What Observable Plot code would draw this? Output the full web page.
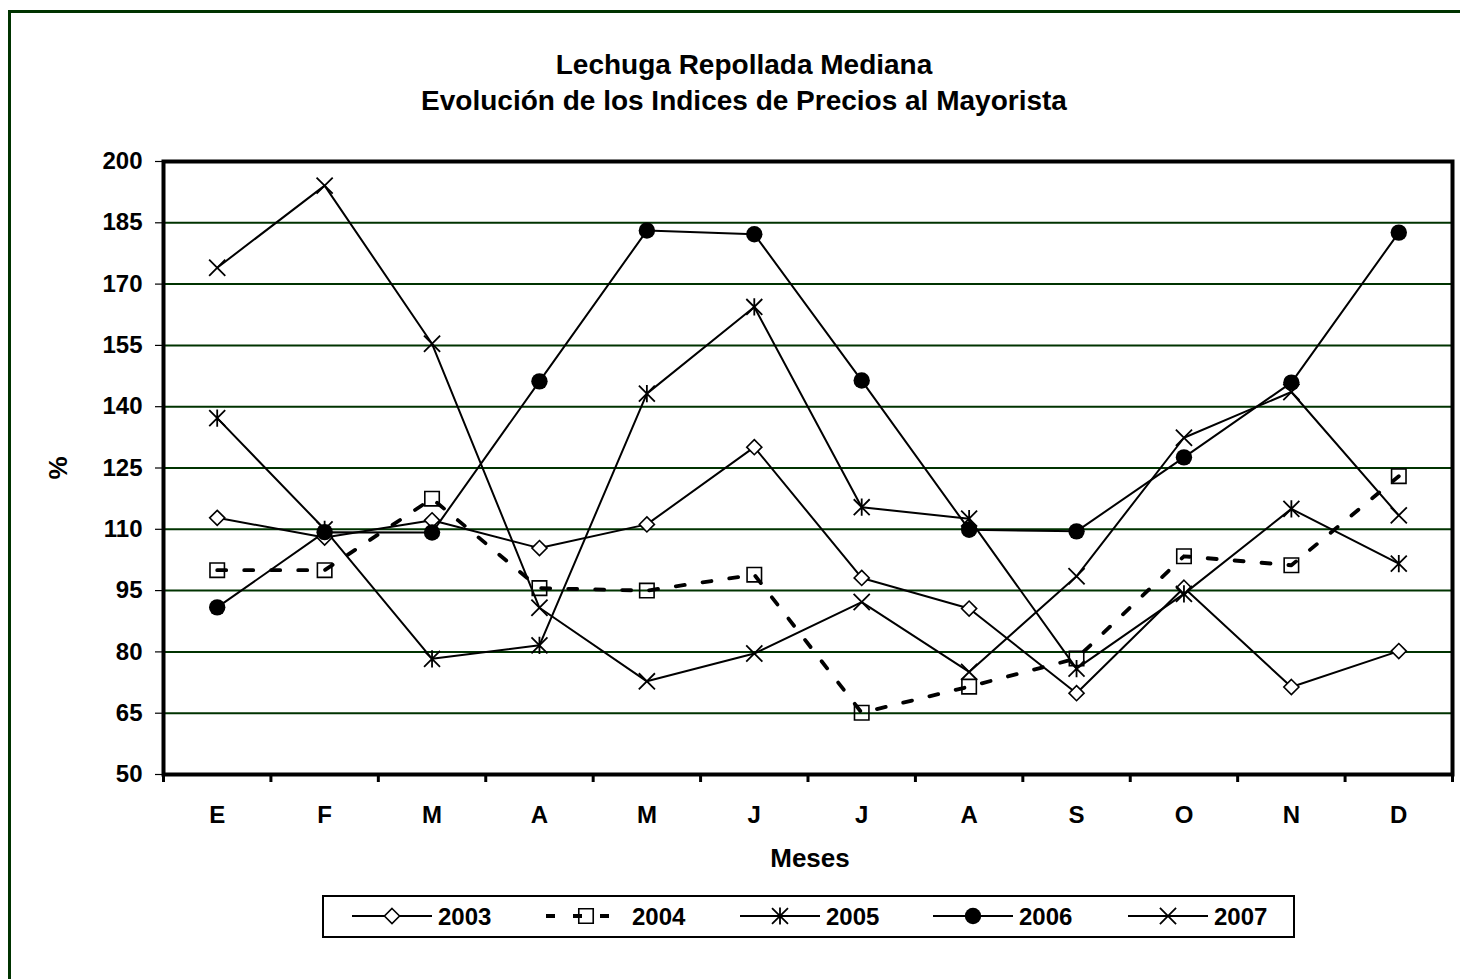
<!DOCTYPE html>
<html>
<head>
<meta charset="utf-8">
<script src="https://cdn.jsdelivr.net/npm/d3@7"></script>
<script src="https://cdn.jsdelivr.net/npm/@observablehq/plot@0.6"></script>
<style>
  body { margin: 0; background: #fff; }
  #wrap { position: relative; width: 1460px; height: 979px; overflow: hidden; background: #fff;
          font-family: "Liberation Sans", Arial, sans-serif; }
  #border { position: absolute; left: 7.5px; top: 9.5px; width: 1500px; height: 1100px;
            border-left: 3px solid #003300; border-top: 3px solid #003300; }
  #plot { position: absolute; left: 0; top: 0; }
  #overlay { position: absolute; left: 0; top: 0; }
</style>
</head>
<body>
<div id="wrap">
  <div id="border"></div>
  <div id="plot"></div>
  <svg id="overlay" width="1460" height="979"></svg>
</div>
<script>
// ---- data ----
const months = ["E","F","M","A","M","J","J","A","S","O","N","D"];
const years = ["2003","2004","2005","2006","2007"];
const v2003 = [112.8, 108.0, 112.2, 105.4, 111.2, 130.1, 98.1, 90.6, 69.9, 95.7, 71.4, 80.2];
const v2004 = [100.0, 100.0, 117.5, 95.6, 95.0, 98.9, 65.1, 71.5, 78.4, 103.4, 101.2, 123.0];
const v2005 = [137.2, 110.0, 78.3, 81.6, 143.2, 164.4, 115.4, 112.6, 75.9, 94.2, 115.0, 101.6];
const v2006 = [90.9, 109.3, 109.2, 146.2, 183.1, 182.2, 146.4, 109.9, 109.5, 127.6, 145.9, 182.6];
const v2007 = [174.0, 194.1, 155.4, 90.8, 72.8, 79.6, 92.2, 75.1, 98.5, 132.4, 143.6, 113.4];
const yTicks = [50, 65, 80, 95, 110, 125, 140, 155, 170, 185, 200];
const gridVals = [65, 80, 95, 110, 125, 140, 155, 170, 185];
const titleLines = ["Lechuga Repollada Mediana", "Evolución de los Indices de Precios al Mayorista"];
const xTitle = "Meses";
const yTitle = "%";

const rows = vals => vals.map((v, i) => ({i, v}));
const boundaries = d3.range(13).map(k => k - 0.5);

// custom Excel-like star (X + vertical)
const star = {
  draw(ctx, size) {
    const r = Math.sqrt(size / Math.PI);
    const h = r * 1.05;
    ctx.moveTo(-h, -h); ctx.lineTo(h, h);
    ctx.moveTo(-h, h); ctx.lineTo(h, -h);
    ctx.moveTo(0, -h * 1.08); ctx.lineTo(0, h * 1.08);
  }
};

const FONT = "Liberation Sans, Arial, sans-serif";
const styles = {
  "2003": {line: {stroke: "black", strokeWidth: 2}, dot: {symbol: "diamond2", r: 6.8, stroke: "black", strokeWidth: 1.6, fill: "white"}},
  "2004": {line: {stroke: "black", strokeWidth: 3.8, strokeDasharray: "9,18"}, dot: {symbol: "square2", r: 9.2, stroke: "black", strokeWidth: 1.6, fill: "none"}},
  "2005": {line: {stroke: "black", strokeWidth: 2}, dot: {symbol: star, r: 7.6, stroke: "black", strokeWidth: 1.8, fill: "none"}},
  "2006": {line: {stroke: "black", strokeWidth: 2}, dot: {symbol: "circle", r: 8.2, stroke: "none", fill: "black"}},
  "2007": {line: {stroke: "black", strokeWidth: 2}, dot: {symbol: "times", r: 7.4, stroke: "black", strokeWidth: 1.8, fill: "none"}}
};
const series = {"2003": v2003, "2004": v2004, "2005": v2005, "2006": v2006, "2007": v2007};

const lineMarks = years.map(y => Plot.line(rows(series[y]), {x: "i", y: "v", ...styles[y].line}));
const dotMarks = years.map(y => Plot.dot(rows(series[y]), {x: "i", y: "v", ...styles[y].dot}));

const chart = Plot.plot({
  width: 1460,
  height: 875,
  marginLeft: 163,
  marginRight: 8,
  marginTop: 161,
  marginBottom: 101,
  style: {fontFamily: FONT, fontSize: "24px", fontWeight: "bold", background: "transparent", color: "black", overflow: "visible"},
  x: {domain: [-0.5, 11.5], axis: null},
  y: {domain: [50, 200], axis: null},
  marks: [
    Plot.ruleY(gridVals, {stroke: "#003300", strokeWidth: 2}),
    Plot.axisY({ticks: yTicks, tickSize: 8, tickPadding: 13, tickFormat: d => String(d), label: null,
                fontSize: 24, fontWeight: "bold", fontFamily: FONT, stroke: "black", strokeWidth: 1.2, fill: "black"}),
    Plot.axisX({ticks: boundaries, tickSize: 8, tickFormat: () => "", label: null, stroke: "black", strokeWidth: 3}),
    Plot.axisX({ticks: d3.range(12), tickSize: 0, tickPadding: 31, tickFormat: i => months[i], label: null,
                fontSize: 24, fontWeight: "bold", fontFamily: FONT, fill: "black"}),
    ...lineMarks,
    ...dotMarks,
    Plot.frame({stroke: "black", strokeWidth: 4})
  ]
});
document.getElementById("plot").append(chart);

// ---- titles and legend ----
const svg = d3.select("#overlay").style("font-family", FONT).style("font-weight", "bold");
svg.append("text").attr("x", 744).attr("y", 74).attr("text-anchor", "middle").attr("font-size", 28).text(titleLines[0]);
svg.append("text").attr("x", 744).attr("y", 110).attr("text-anchor", "middle").attr("font-size", 28).text(titleLines[1]);
svg.append("text").attr("x", 810).attr("y", 867).attr("text-anchor", "middle").attr("font-size", 26).text(xTitle);
svg.append("text").attr("transform", "translate(67,468) rotate(-90)").attr("text-anchor", "middle").attr("font-size", 26).text(yTitle);

// legend box
svg.append("rect").attr("x", 323).attr("y", 896).attr("width", 971).attr("height", 41)
  .attr("fill", "white").attr("stroke", "black").attr("stroke-width", 2);

const symType = s => {
  if (s === "diamond2") return d3.symbolDiamond2;
  if (s === "square2") return d3.symbolSquare2;
  if (s === "circle") return d3.symbolCircle;
  if (s === "times") return d3.symbolTimes;
  return s;
};
const legendX = [352, 546, 740, 933, 1128];
years.forEach((y, k) => {
  const x0 = legendX[k], ly = 916;
  const st = styles[y];
  svg.append("line").attr("x1", x0).attr("x2", x0 + 80).attr("y1", ly).attr("y2", ly)
    .attr("stroke", "black").attr("stroke-width", st.line.strokeWidth)
    .attr("stroke-dasharray", st.line.strokeDasharray || null);
  const d = st.dot;
  svg.append("path").attr("transform", `translate(${x0 + 40},${ly})`)
    .attr("d", d3.symbol(symType(d.symbol), Math.PI * d.r * d.r)())
    .attr("fill", d.fill).attr("stroke", d.stroke).attr("stroke-width", d.strokeWidth || 0);
  svg.append("text").attr("x", x0 + 86).attr("y", 925).attr("font-size", 24).text(y);
});
</script>
</body>
</html>
